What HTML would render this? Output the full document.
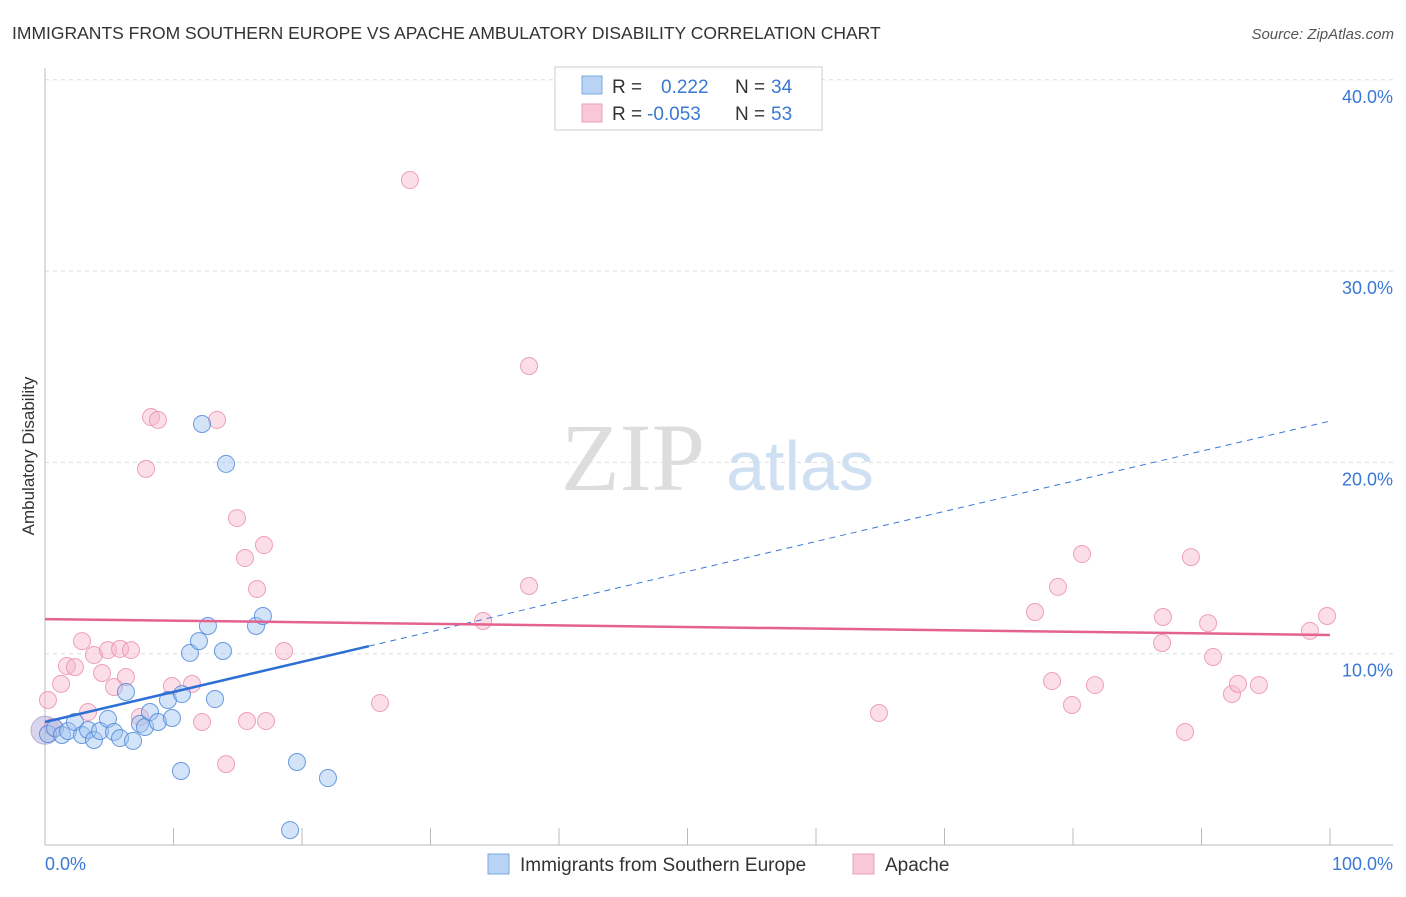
<!DOCTYPE html>
<html><head><meta charset="utf-8"><style>
body{margin:0;background:#fff;font-family:"Liberation Sans",sans-serif}
</style></head><body>
<svg id="c" width="1406" height="892" viewBox="0 0 1406 892" xmlns="http://www.w3.org/2000/svg">
<text x="12" y="39" font-size="17.5" fill="#333">IMMIGRANTS FROM SOUTHERN EUROPE VS APACHE AMBULATORY DISABILITY CORRELATION CHART</text>
<text x="1394" y="39" font-size="15" fill="#555" font-style="italic" text-anchor="end">Source: ZipAtlas.com</text>
<text x="34" y="456" font-size="17" fill="#333" text-anchor="middle" transform="rotate(-90 34 456)">Ambulatory Disability</text>
<g>
<text x="633" y="490" font-size="96" fill="#ddd" font-family="Liberation Serif,serif" text-anchor="middle">ZIP</text>
<text x="800" y="490" font-size="70" fill="#cfe0f3" text-anchor="middle">atlas</text>
</g>
<g id="grid"></g><g id="marks"></g>
<g>
<rect x="555" y="67" width="267" height="63" fill="#fff" stroke="#ccc"/>
<rect x="582" y="76" width="20" height="18" fill="#b8d3f4" stroke="#7aa8e0"/>
<rect x="582" y="104" width="20" height="18" fill="#f9c8d6" stroke="#eba0b6"/>
<text x="612" y="93" font-size="19" fill="#333">R = </text><text x="661" y="93" font-size="19" fill="#3a78d6">0.222</text>
<text x="735" y="93" font-size="19" fill="#333">N = </text><text x="771" y="93" font-size="19" fill="#3a78d6">34</text>
<text x="612" y="120" font-size="19" fill="#333">R = </text><text x="647" y="120" font-size="19" fill="#3a78d6">-0.053</text>
<text x="735" y="120" font-size="19" fill="#333">N = </text><text x="771" y="120" font-size="19" fill="#3a78d6">53</text>
</g>
<g>
<rect x="488" y="854" width="21" height="20" fill="#b8d3f4" stroke="#7aa8e0"/>
<text x="520" y="871" font-size="19" fill="#333">Immigrants from Southern Europe</text>
<rect x="853" y="854" width="21" height="20" fill="#f9c8d6" stroke="#eba0b6"/>
<text x="885" y="871" font-size="19" fill="#333">Apache</text>
</g>
<text x="45" y="870" font-size="18" fill="#3a78d6">0.0%</text>
<text x="1393" y="870" font-size="18" fill="#3a78d6" text-anchor="end">100.0%</text>
</svg>
<script>
const yTicks=[10,20,30,40];
const yTickLabels=["10.0%","20.0%","30.0%","40.0%"];
const xTicks=[0,10,20,30,40,50,60,70,80,90,100];
const blueX=[0.23,0.78,1.32,1.79,2.33,2.88,3.35,3.81,4.28,4.9,5.37,5.84,6.3,6.85,7.39,7.78,8.17,8.79,9.57,9.88,10.66,10.58,11.28,11.98,12.22,12.68,13.23,13.85,14.09,16.42,16.96,19.61,19.07,22.02];
const blueY=[5.8,6.1,5.75,5.96,6.43,5.75,6.01,5.49,5.96,6.59,5.91,5.59,8.0,5.44,6.33,6.17,6.95,6.43,7.58,6.64,7.89,3.87,10.04,10.66,22.01,11.45,7.63,10.14,19.92,11.45,11.97,4.34,0.78,3.5];
const pinkX=[0.23,0.62,1.25,1.71,2.33,2.88,3.35,3.81,4.44,4.9,5.37,5.84,6.3,6.69,7.39,7.86,8.25,8.79,9.88,11.44,12.22,13.39,14.09,14.94,15.56,16.5,17.04,17.2,15.72,18.6,26.07,28.4,34.09,37.67,37.67,64.9,77.04,78.37,78.83,79.92,80.7,81.71,87.0,86.93,88.72,89.18,90.51,90.9,92.37,92.84,94.47,98.44,99.77];
const pinkY=[7.58,6.17,8.42,9.36,9.3,10.66,6.95,9.93,8.99,10.19,8.26,10.25,8.78,10.19,6.69,19.66,22.37,22.22,8.31,8.42,6.43,22.22,4.23,17.09,15.0,13.38,15.68,6.48,6.48,10.14,7.42,34.76,11.71,25.04,13.54,6.9,12.18,8.57,13.49,7.32,15.21,8.36,11.92,10.56,5.91,15.05,11.6,9.83,7.89,8.42,8.36,11.19,11.97];
const blueTrend=[6.43,22.16]; const blueSolidEnd=25.2;
const pinkTrend=[11.81,10.98];
const NS="http://www.w3.org/2000/svg";
const X=v=>45+v*12.85, Y=v=>845-v*19.13;
function mk(t,a,p){const e=document.createElementNS(NS,t);for(const k in a)e.setAttribute(k,a[k]);p.appendChild(e);return e;}
const g=document.getElementById('grid'),m=document.getElementById('marks');
yTicks.forEach((t,i)=>{
 const l=mk('line',{x1:45,x2:1393,y1:Y(t),y2:Y(t),stroke:'#ddd','stroke-dasharray':'4,4'},g);
 
 
 const tx=mk('text',{x:1393,y:Y(t)+23,'font-size':18,fill:'#3a78d6','text-anchor':'end'},g);
 tx.textContent=yTickLabels[i];
 
 
});
const ax=mk('line',{x1:45,x2:1393,y1:845,y2:845,stroke:'#bbb'},g);


const ay=mk('line',{x1:45,x2:45,y1:68,y2:845,stroke:'#bbb'},g);


xTicks.forEach(t=>{
 const l=mk('line',{x1:X(t),x2:X(t),y1:828,y2:845,stroke:'#bbb'},g);
 
 
});
const big=mk('circle',{cx:X(0),cy:Y(6.0),r:14,fill:'rgba(170,160,210,0.45)',stroke:'rgba(150,140,200,0.6)'},m);


pinkX.forEach((v,i)=>{
 const c=mk('circle',{cx:X(v),cy:Y(pinkY[i]),r:8.5,fill:'rgba(246,182,203,0.45)',stroke:'rgba(234,140,170,0.8)','stroke-width':1},m);
 
 
});
blueX.forEach((v,i)=>{
 const c=mk('circle',{cx:X(v),cy:Y(blueY[i]),r:8.5,fill:'rgba(160,196,240,0.45)',stroke:'rgba(70,130,215,0.8)','stroke-width':1},m);
 
 
});
const bAt=x=>blueTrend[0]+(blueTrend[1]-blueTrend[0])*x/100;
const bs=mk('line',{x1:X(0),y1:Y(bAt(0)),x2:X(blueSolidEnd),y2:Y(bAt(blueSolidEnd)),stroke:'#2d6fd4','stroke-width':2.5},m);


const bd=mk('line',{x1:X(blueSolidEnd),y1:Y(bAt(blueSolidEnd)),x2:X(100),y2:Y(bAt(100)),stroke:'#3a78d6','stroke-width':1,'stroke-dasharray':'6,5'},m);


const pl=mk('line',{x1:X(0),y1:Y(pinkTrend[0]),x2:X(100),y2:Y(pinkTrend[1]),stroke:'#e4628f','stroke-width':2.5},m);


</script>
</body></html>
